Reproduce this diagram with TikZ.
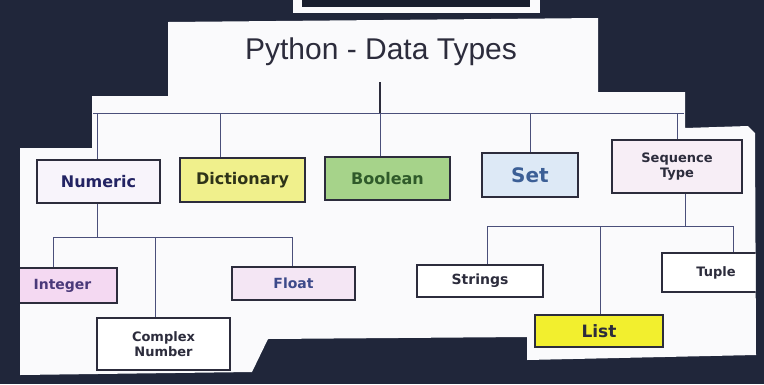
\documentclass[tikz,border=0pt]{standalone}
\usepackage{fontspec}
\setmainfont{Liberation Sans}
\newfontfamily\labfont{DejaVu Sans}
\definecolor{bgc}{HTML}{20263A}
\definecolor{paperc}{HTML}{FAFAFC}
\definecolor{linec}{HTML}{4A4F7A}
\definecolor{bordc}{HTML}{2C2C3C}
\definecolor{numf}{HTML}{F8F4FB}
\definecolor{dictf}{HTML}{F0F08C}
\definecolor{boolf}{HTML}{A6D38A}
\definecolor{setf}{HTML}{DDE9F6}
\definecolor{seqf}{HTML}{F7EEF6}
\definecolor{intf}{HTML}{F4D9F2}
\definecolor{floatf}{HTML}{F4E6F4}
\definecolor{listf}{HTML}{F2EF2E}
\tikzset{
  box/.style={draw=bordc, line width=1.3pt, rectangle, inner sep=0pt, align=center,
    font=\labfont\fontsize{16}{18}\selectfont\bfseries, text=bordc},
  conn/.style={draw=linec, line width=0.9pt},
}
\begin{document}
\begin{tikzpicture}[x=1pt,y=-1pt]
\useasboundingbox (0,0) rectangle (764,384);
\fill[bgc] (0,0) rectangle (764,384);
% top paper piece
\fill[paperc] (293,0) rectangle (540,13);
\fill[bgc!80!black] (302,0) rectangle (530,7);
% main paper
\def\paperpath{(168,22) -- (598,18) -- (598,92) -- (685,92) -- (685,128) -- (748,126) -- (755,133) -- (756,355) -- (527,360) -- (527,337) -- (268,339) -- (252,372) -- (20,375) -- (20,148) -- (92,148) -- (92,96) -- (168,96) -- cycle}
\fill[paperc] \paperpath;
\begin{scope}
\clip \paperpath;
\node[font=\fontsize{30}{33}\selectfont, text=bordc] (title) at (381,52) {Python - Data Types};
% level 1 boxes
\node[box, fill=numf, minimum width=123pt, minimum height=43pt, text=bordc!80!blue] (numeric) at (98.5,181.5) {Numeric};
\node[box, fill=dictf, minimum width=125pt, minimum height=44pt, text={rgb,255:red,46;green,51;blue,24}] (dict) at (242.5,180) {Dictionary};
\node[box, fill=boolf, minimum width=125pt, minimum height=43pt, text={rgb,255:red,47;green,90;blue,42}] (bool) at (387.5,178.5) {Boolean};
\node[box, fill=setf, minimum width=96pt, minimum height=44pt, text={rgb,255:red,60;green,95;blue,150}, font=\labfont\fontsize{20}{22}\selectfont\bfseries] (set) at (530,175) {Set};
\node[box, fill=seqf, minimum width=130pt, minimum height=53pt, font=\labfont\fontsize{13}{15}\selectfont\bfseries] (seq) at (677,166.5) {Sequence\\Type};
% level 2 boxes
\node[box, fill=intf, minimum width=109pt, minimum height=35pt, text={rgb,255:red,74;green,58;blue,122}, font=\labfont\fontsize{14}{16}\selectfont\bfseries] (int) at (62.5,285.5) {Integer};
\node[box, fill=white, minimum width=133pt, minimum height=52pt, font=\labfont\fontsize{13}{15}\selectfont\bfseries] (complex) at (163.5,344) {Complex\\Number};
\node[box, fill=floatf, minimum width=123pt, minimum height=33pt, text={rgb,255:red,61;green,74;blue,138}, font=\labfont\fontsize{14}{16}\selectfont\bfseries] (float) at (293.5,283.5) {Float};
\node[box, fill=white, minimum width=126pt, minimum height=32pt, font=\labfont\fontsize{14}{16}\selectfont\bfseries] (strings) at (480,281) {Strings};
\node[box, fill=listf, minimum width=128pt, minimum height=32pt, font=\labfont\fontsize{17}{19}\selectfont\bfseries] (list) at (599,331) {List};
\node[box, fill=white, minimum width=108pt, minimum height=39pt, font=\labfont\fontsize{13}{15}\selectfont\bfseries] (tuple) at (716,272.5) {Tuple};
% bus coordinates
\coordinate (t0) at (380,82);
\coordinate (bt) at (380,113);
\coordinate (bl) at (93,113);
\coordinate (br) at (684,113);
\coordinate (bd) at (220,113);
\coordinate (bn) at (97,113);
\coordinate (bs) at (530,113);
\coordinate (bq) at (677,113);
\draw[conn, line width=2pt, draw=bordc] (t0) -- (bt);
\draw[conn] (bl) -- (br);
\draw[conn] (bn) -- (bn |- numeric.north);
\draw[conn] (bd) -- (bd |- dict.north);
\draw[conn] (bt) -- (bt |- bool.north);
\draw[conn] (bs) -- (set.north);
\draw[conn] (bq) -- (seq.north);
% numeric sub-bus
\coordinate (nd) at (97,237);
\coordinate (nl) at (53,237);
\coordinate (nc) at (155,237);
\coordinate (nr) at (292,237);
\draw[conn] (nd |- numeric.south) -- (nd);
\draw[conn] (nl) -- (nr);
\draw[conn] (nl) -- (nl |- int.north);
\draw[conn] (nc) -- (nc |- complex.north);
\draw[conn] (nr) -- (nr |- float.north);
% sequence sub-bus
\coordinate (sd) at (685,226);
\coordinate (sl) at (487,226);
\coordinate (sm) at (600,226);
\coordinate (sr) at (733,226);
\draw[conn] (sd |- seq.south) -- (sd);
\draw[conn] (sl) -- (sr);
\draw[conn] (sl) -- (sl |- strings.north);
\draw[conn] (sm) -- (sm |- list.north);
\draw[conn] (sr) -- (sr |- tuple.north);
\end{scope}
\end{tikzpicture}
\end{document}
